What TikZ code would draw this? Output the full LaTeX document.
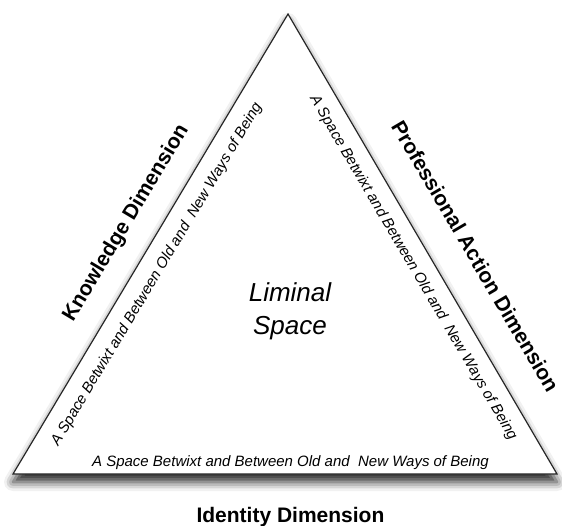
\documentclass[tikz,border=0pt]{standalone}
\usepackage{fontspec}
\setmainfont{Liberation Sans}
\usetikzlibrary{shadows.blur}

\begin{document}
\begin{tikzpicture}[
  x=1pt, y=-1pt,
  dim/.style     = {font=\fontsize{21}{25}\selectfont\bfseries, inner sep=0pt},
  betwixt/.style = {font=\fontsize{15}{18}\selectfont\itshape, inner sep=0pt},
  liminal/.style = {font=\fontsize{26}{33}\selectfont\itshape, align=center,
                    inner sep=0pt},
  edge/.style    = {draw=black!85, line width=1.2pt, line join=miter}
]
\useasboundingbox (0,0) rectangle (562,525);

\coordinate (bl)  at (13,474);
\coordinate (br)  at (557,474);
\coordinate (top) at (288,14);

% triangle with its shadow
\fill[white, blur shadow={shadow xshift=0pt, shadow yshift=-8pt,
      shadow blur radius=9pt, shadow opacity=85}]
  (bl) -- (br) -- (top) -- cycle;
\draw[edge] (bl) -- (br) -- (top) -- cycle;

% left side
\path (bl) -- (top)
  node[dim, pos=0.51, sloped, anchor=base, yshift=26pt] (know)
    {Knowledge Dimension}
  node[betwixt, pos=0.457, sloped, anchor=base, yshift=-25pt] (knowsp)
    {A Space Betwixt and Between Old and~ New Ways of Being};

% right side
\path (top) -- (br)
  node[dim, pos=0.57, sloped, anchor=base, yshift=32pt] (prof)
    {Professional Action Dimension}
  node[betwixt, pos=0.53, sloped, anchor=base, yshift=-24pt] (profsp)
    {A Space Betwixt and Between Old and~ New Ways of Being};

% bottom
\path (bl) -- (br)
  node[dim, pos=0.51, anchor=base, yshift=-48pt] (ident)
    {Identity Dimension}
  node[betwixt, pos=0.51, anchor=base, yshift=8pt] (identsp)
    {A Space Betwixt and Between Old and~ New Ways of Being};

\node[liminal] (space) at (290,311) {Liminal\\Space};

\end{tikzpicture}
\end{document}
